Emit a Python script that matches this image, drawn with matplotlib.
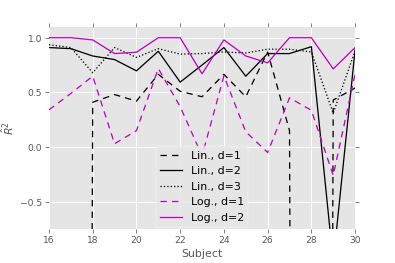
import numpy as np
import matplotlib
matplotlib.use("Agg")
import matplotlib.pyplot as plt

subjects = list(range(16, 31))
lin_d1 = [-50, -50, 0.41, 0.48, 0.42, 0.665, 0.51, 0.46, 0.665, 0.46, 0.87, 0.15, -50, 0.43, 0.54]
lin_d2 = [0.91, 0.90, 0.833, 0.80, 0.697, 0.876, 0.594, 0.75, 0.91, 0.648, 0.855, 0.855, 0.918, -1.05, 0.89]
lin_d3 = [0.936, 0.91, 0.68, 0.91, 0.82, 0.90, 0.85, 0.855, 0.87, 0.86, 0.895, 0.895, 0.87, 0.31, 0.88]
log_d1 = [0.34, 0.49, 0.648, 0.03, 0.15, 0.718, 0.37, -0.08, 0.65, 0.14, -0.05, 0.45, 0.336, -0.26, 0.67]
log_d2 = [1.0, 1.0, 0.98, 0.855, 0.867, 1.0, 1.0, 0.67, 0.98, 0.833, 0.77, 1.0, 1.0, 0.715, 0.91]

labels = ["Lin., d=1", "Lin., d=2", "Lin., d=3", "Log., d=1", "Log., d=2"]

plt.style.use("ggplot")
plt.rcParams["font.family"] = ["DejaVu Sans"]

fig = plt.figure(figsize=(6, 4), dpi=395 / 6)
ax = fig.add_axes([0.124, 0.129, 0.775, 0.768])

lw = 1.4
ax.plot(subjects, lin_d1, color="k", linestyle="--", dashes=(5, 4), lw=lw, label=labels[0])
ax.plot(subjects, lin_d2, color="k", linestyle="-", lw=lw, label=labels[1])
ax.plot(subjects, lin_d3, color="k", linestyle=":", lw=lw, label=labels[2])
ax.plot(subjects, log_d1, color="m", linestyle="--", dashes=(5, 4), lw=lw, label=labels[3])
ax.plot(subjects, log_d2, color="m", linestyle="-", lw=lw, label=labels[4])

ax.set_xlim(16, 30)
ax.set_ylim(-0.75, 1.1)
ax.set_xticks(range(16, 31, 2))
ax.set_yticks([-0.5, 0.0, 0.5, 1.0])
ax.set_xlabel("Subject", fontsize=12, color="#555555")
ax.set_ylabel(r"$\hat{R}^2$", fontsize=12, color="#555555")
ax.tick_params(axis="both", which="major", direction="out", length=4, colors="#555555",
               labelsize=10, top=True, right=True, labelcolor="#555555")
ax.grid(True, color="white", linewidth=1)
for s in ax.spines.values():
    s.set_visible(False)

leg = ax.legend(loc="lower center", fontsize=12, frameon=True, handlelength=2.0,
                borderaxespad=0.2, labelspacing=0.5, borderpad=0.4, handletextpad=0.8)
leg.get_frame().set_facecolor("#E5E5E5")
leg.get_frame().set_edgecolor("white")
leg.get_frame().set_alpha(0.8)

fig.savefig("out.png", dpi=395 / 6)
